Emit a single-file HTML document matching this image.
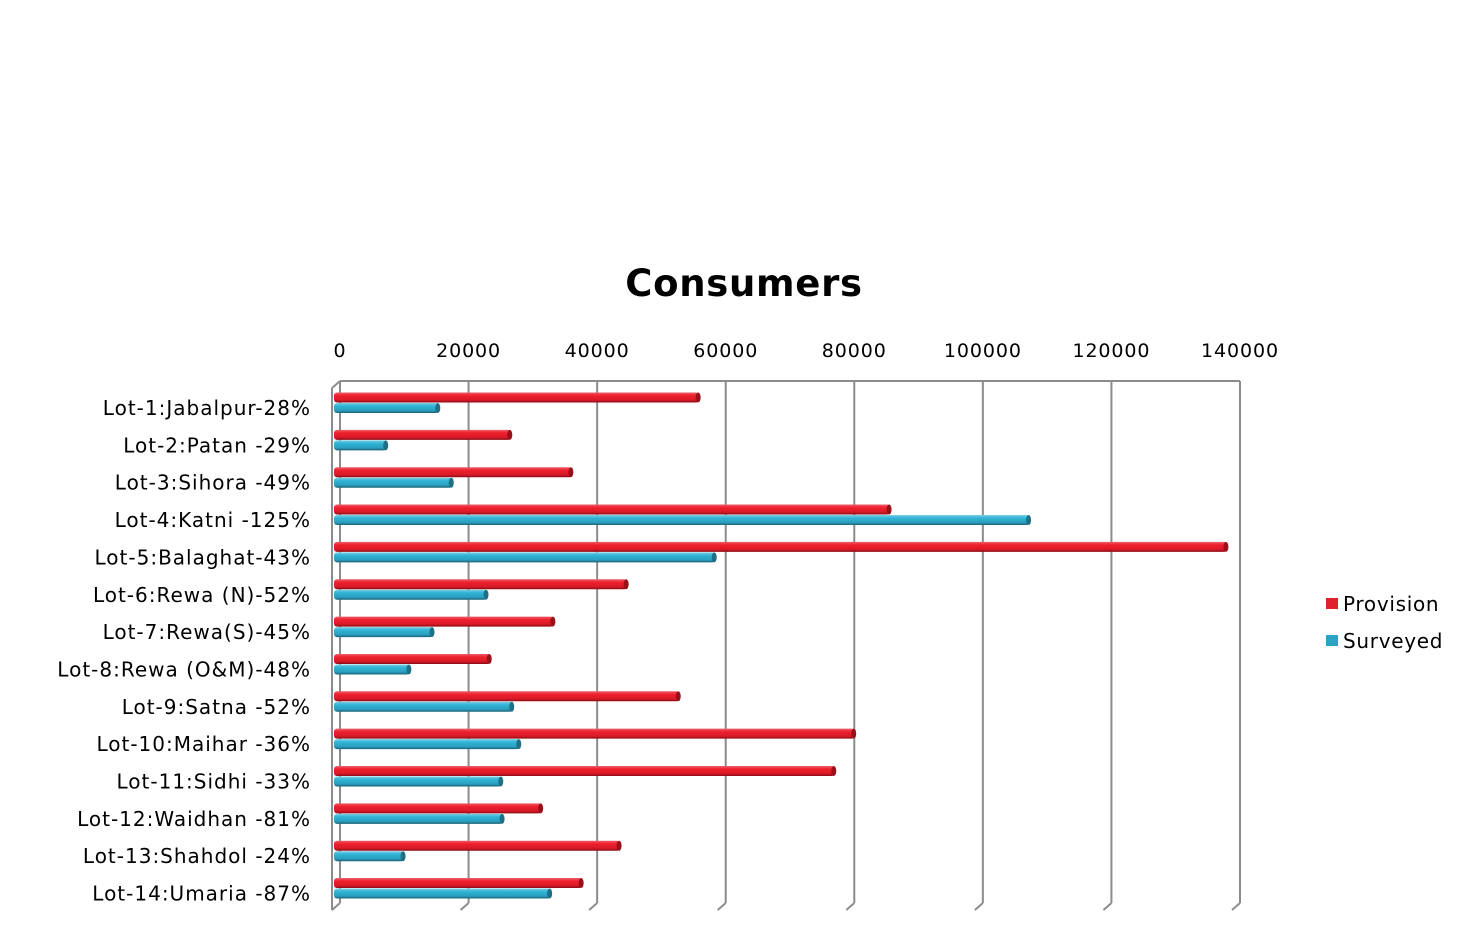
<!DOCTYPE html>
<html><head><meta charset="utf-8"><style>
html,body{margin:0;padding:0;background:#fff;}
svg{display:block;font-family:"DejaVu Sans","Liberation Sans",sans-serif;}
</style></head><body>
<svg id="chart" width="1463" height="938">
<defs>
<linearGradient id="gr" x1="0" y1="0" x2="0" y2="1"><stop offset="0" stop-color="#e8606a"/><stop offset="0.3" stop-color="#f0202e"/><stop offset="0.75" stop-color="#d81a28"/><stop offset="1" stop-color="#8a0c14"/></linearGradient>
<linearGradient id="gb" x1="0" y1="0" x2="0" y2="1"><stop offset="0" stop-color="#7ccfe3"/><stop offset="0.3" stop-color="#30b4d6"/><stop offset="0.75" stop-color="#2a9fbf"/><stop offset="1" stop-color="#1a5f72"/></linearGradient>
</defs>
<text x="744" y="296" text-anchor="middle" font-size="37" font-weight="bold" letter-spacing="0.7">Consumers</text>
<g id="grid"></g><g id="bars"></g><g id="labels"></g>
<g>
<rect x="1326" y="598" width="12" height="11" fill="#e0202c"/>
<text x="1343" y="611" font-size="20" letter-spacing="0.7">Provision</text>
<rect x="1326" y="635" width="12" height="11" fill="#2ba3c4"/>
<text x="1343" y="648" font-size="20" letter-spacing="0.7">Surveyed</text>
</g>
</svg>
<script>
const categories=["Lot-1:Jabalpur-28%","Lot-2:Patan -29%","Lot-3:Sihora -49%","Lot-4:Katni -125%","Lot-5:Balaghat-43%","Lot-6:Rewa (N)-52%","Lot-7:Rewa(S)-45%","Lot-8:Rewa (O&M)-48%","Lot-9:Satna -52%","Lot-10:Maihar -36%","Lot-11:Sidhi -33%","Lot-12:Waidhan -81%","Lot-13:Shahdol -24%","Lot-14:Umaria -87%"];
const provision=[56800,27500,37000,86500,138900,45600,34200,24300,53700,81000,77900,32300,44500,38600];
const surveyed=[16300,8200,18400,108200,59300,23800,15400,11800,27800,28900,26100,26300,10900,33700];
const ticks=[0,20000,40000,60000,80000,100000,120000,140000];
const NS="http://www.w3.org/2000/svg";
const xBack=v=>340+v*900/140000;
const xFront=v=>334+v*900/140000;
const rowY=i=>397+i*37.35;
const grid=document.getElementById('grid'),bars=document.getElementById('bars'),labels=document.getElementById('labels');
function mk(tag,attrs,parent){const e=document.createElementNS(NS,tag);for(const k in attrs)e.setAttribute(k,attrs[k]);parent.appendChild(e);return e;}
ticks.forEach((t,i)=>{
  const x=xBack(t);
  const l=mk('line',{x1:x,y1:381,x2:x,y2:903,stroke:'#8c8c8c','stroke-width':2},grid);
  
  
  const d=mk('line',{x1:x,y1:903,x2:x-8,y2:910,stroke:'#8c8c8c','stroke-width':2},grid);
  
  
  const tx=mk('text',{x:x,y:357,'text-anchor':'middle','font-size':19,'letter-spacing':0.9},labels);
  tx.textContent=t;
  
  
});
mk('line',{x1:340,y1:381,x2:1240,y2:381,stroke:'#8c8c8c','stroke-width':2},grid);
mk('line',{x1:340,y1:381,x2:332,y2:388,stroke:'#8c8c8c','stroke-width':2},grid);
mk('line',{x1:332,y1:388,x2:332,y2:910,stroke:'#8c8c8c','stroke-width':2},grid);
function bar(v,y,fill,name){
  const x0=334,x1=xFront(v);
  const r=mk('rect',{x:x0,y:y,width:x1-x0,height:10,rx:3,fill:fill},bars);
  
  
  mk('ellipse',{cx:x1-1,cy:y+5,rx:2.5,ry:5,fill:fill==='url(#gr)'?'#9a0f18':'#1f6f85'},bars);
}
categories.forEach((c,i)=>{
  const y=rowY(i);
  bar(provision[i],y-4.5,'url(#gr)','bar-provision');
  bar(surveyed[i],y+6,'url(#gb)','bar-surveyed');
  const t=mk('text',{x:311,y:y+18,'text-anchor':'end','font-size':20,'letter-spacing':1},labels);
  t.textContent=c;
  
  
});
</script>
</body></html>
